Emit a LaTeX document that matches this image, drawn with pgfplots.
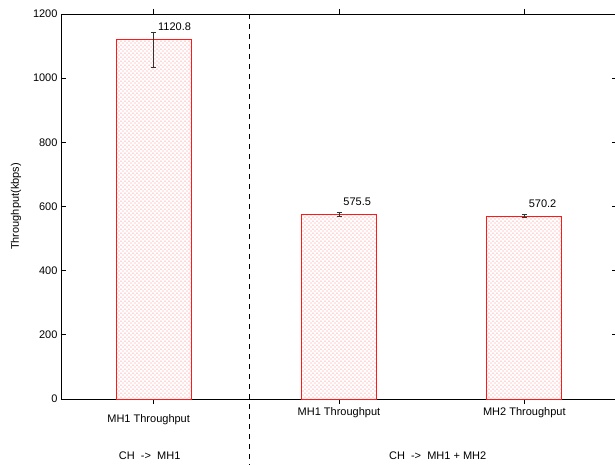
\documentclass[border=0pt]{standalone}
\usepackage{fontspec}
\setmainfont{Liberation Sans}
\usepackage{pgfplots}
\pgfplotsset{compat=1.18}
\usetikzlibrary{patterns.meta}

% sparse two-tone dot fill for the bars
\tikzdeclarepattern{
  name=sparsedots,
  type=colored,
  bounding box={(0bp,0bp) and (4.4bp,4.4bp)},
  tile size={(4.4bp,4.4bp)},
  code={
    \fill[red!80] (0.6bp,0.6bp) rectangle (1.6bp,1.6bp);
    \fill[red!35] (2.8bp,2.8bp) rectangle (3.8bp,3.8bp);
  }
}

\begin{document}
\begin{tikzpicture}
% page frame; the right frame line of the axis falls just outside it
\path[use as bounding box] (-61bp,-66bp) rectangle (554bp,399bp);
\begin{axis}[
  at={(0,0)}, anchor=south west,
  scale only axis, width=556bp, height=385bp,
  xmin=0.5, xmax=3.5, ymin=0, ymax=1200,
  xtick={1,2,3}, xticklabels={},
  ytick={0,200,...,1200},
  yticklabel style={/pgf/number format/1000 sep={}},
  tick align=inside, major tick length=5bp,
  axis line style={line width=0.8bp},
  tick style={line width=0.8bp, black},
  font=\fontsize{11bp}{13bp}\selectfont,
  /pgf/number format/assume math mode=true,
  ylabel={Throughput(kbps)},
  ylabel style={at={(axis description cs:-0.081,0.5)}, anchor=center},
  clip=false,
  ybar, bar width=75bp, bar shift=0pt,
]
\addplot[draw=red!90, line width=0.9bp, pattern=sparsedots,
  nodes near coords={\pgfmathprintnumber[fixed,fixed zerofill,precision=1,1000 sep={},assume math mode=true]{\pgfplotspointmeta}},
  nodes near coords style={anchor=south west, inner sep=0pt, xshift=4bp, yshift=8bp, black},
  error bars/.cd, y dir=both, y explicit,
  error bar style={black!80, line width=0.6bp},
  error mark options={rotate=90, black!80, mark size=2.5bp, line width=0.6bp},
  ] coordinates {
  (1,1120.8) += (0,21) -= (0,88)
  (2,575.5) +- (0,5)
  (3,570.2) +- (0,4)
};

% separator between the two scenarios
\draw[black, line width=0.8bp, dash pattern=on 5bp off 5bp]
  (axis cs:1.515,1200) -- (axis cs:1.515,-230);

% category labels
\node at (axis cs:1,0) [yshift=-21bp, xshift=-5bp] {MH1 Throughput};
\node at (axis cs:2,0) [yshift=-14bp] {MH1 Throughput};
\node at (axis cs:3,0) [yshift=-14bp] {MH2 Throughput};
% scenario labels
\node at (axis cs:1,0) [yshift=-57bp, xshift=-4bp] {CH\ \ ->\ \ MH1};
\node at (axis cs:2.5,0) [yshift=-57bp, xshift=6bp] {CH\ \ ->\ \ MH1 + MH2};
\end{axis}
\end{tikzpicture}
\end{document}
